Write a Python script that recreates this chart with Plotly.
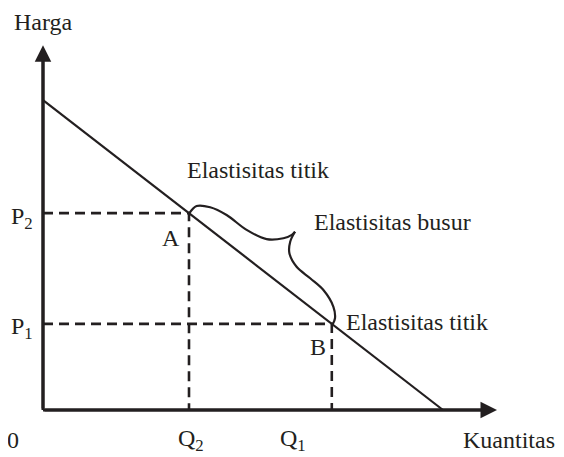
import plotly.graph_objects as go

# ── Data (quantity on x, price on y) ─────────────────────────────────────────
demand_q = [0.0, 10.0]
demand_p = [10.0, 0.0]

point_names = ["A", "B"]
point_q = [3.65, 7.22]
point_p = [6.35, 2.78]

q_labels = ["Q<sub>2</sub>", "Q<sub>1</sub>"]
p_labels = ["P<sub>2</sub>", "P<sub>1</sub>"]

axis_x_end = 11.35
axis_y_end = 11.77

# curly brace from A to tip, then tip to B
brace_left_q = [3.66, 3.84, 4.18, 4.59, 5.09, 5.59, 6.01, 6.22, 6.30]
brace_left_p = [6.35, 6.58, 6.54, 6.29, 5.81, 5.51, 5.54, 5.65, 5.75]
brace_right_q = [6.30, 6.18, 6.16, 6.34, 6.68, 7.01, 7.26, 7.30, 7.24]
brace_right_p = [5.75, 5.43, 5.06, 4.62, 4.25, 3.87, 3.33, 2.96, 2.76]

INK = "#231f20"
FONT = "Liberation Serif"

fig = go.Figure()

# ── Guide lines to the axes ──
for q, p in zip(point_q, point_p):
    fig.add_trace(go.Scatter(
        x=[0, q, q], y=[p, p, 0], mode="lines",
        line=dict(color=INK, width=2.6, dash="10px,6px"),
        showlegend=False, hoverinfo="skip",
    ))

# ── Demand line ──
fig.add_trace(go.Scatter(
    x=demand_q, y=demand_p, mode="lines",
    line=dict(color=INK, width=2.2), showlegend=False,
))

# ── Brace ──
for bq, bp in [(brace_left_q, brace_left_p), (brace_right_q, brace_right_p)]:
    fig.add_trace(go.Scatter(
        x=bq, y=bp, mode="lines",
        line=dict(color=INK, width=2.2, shape="spline", smoothing=1.0),
        showlegend=False, hoverinfo="skip",
    ))

# ── Axes with arrowheads ──
for x_end, y_end in [(axis_x_end, 0), (0, axis_y_end)]:
    fig.add_trace(go.Scatter(
        x=[0, x_end * 0.98], y=[0, y_end * 0.98], mode="lines",
        line=dict(color=INK, width=3), showlegend=False,
    ))
    fig.add_annotation(
        x=x_end, y=y_end, ax=0, ay=0, axref="x", ayref="y",
        text="", showarrow=True, arrowhead=2, arrowsize=1.1,
        arrowwidth=3, arrowcolor=INK,
    )

# ── Text ──
def label(x, y, text, size=24, xanchor="center", yanchor="middle"):
    fig.add_annotation(
        x=x, y=y, text=text, showarrow=False,
        xanchor=xanchor, yanchor=yanchor, borderpad=0,
        font=dict(family=FONT, size=size, color=INK),
    )

label(0.0, 12.968, "Harga", yanchor="top")
label(-0.75, -0.97, "0")
label(11.66, -0.97, "Kuantitas")
label(point_q[0] + 0.05, -0.97, q_labels[0])
label(6.25, -0.97, q_labels[1])
label(-0.52, point_p[0] - 0.15, p_labels[0])
label(-0.52, point_p[1] - 0.15, p_labels[1])
label(point_q[0] - 0.45, point_p[0] - 0.8, point_names[0])
label(point_q[1] - 0.35, point_p[1] - 0.75, point_names[1])
label(5.38, 7.74, "Elastisitas titik")
label(8.73, 6.07, "Elastisitas busur")
label(9.35, 2.83, "Elastisitas titik")

# page has an 8px body margin, so the figure is 556x449 and shifted
fig.update_layout(
    width=556, height=449,
    margin=dict(l=0, r=0, t=0, b=0),
    font=dict(family=FONT, size=24, color=INK),
    plot_bgcolor="white", paper_bgcolor="white",
    xaxis=dict(range=[-0.875, 13.025], visible=False, fixedrange=True),
    yaxis=dict(range=[-1.516, 12.968], visible=False, fixedrange=True),
    showlegend=False,
)

fig.write_html("out.html")
